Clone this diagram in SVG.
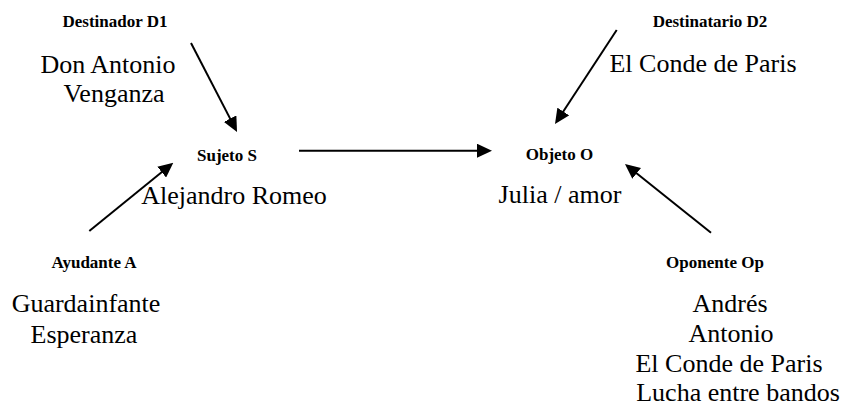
<svg xmlns="http://www.w3.org/2000/svg" width="843" height="407" viewBox="0 0 843 407">
  <style>
    text { font-family: "Liberation Serif", "DejaVu Serif", serif; font-weight: normal; fill: #000; text-anchor: middle; }
    .role { font-size: 17px; font-weight: bold; }
    .val { font-size: 26px; font-style: normal; }
    .arrow { stroke: #000; stroke-width: 2; fill: none; marker-end: url(#head); }
  </style>
  <defs>
    <marker id="head" markerUnits="userSpaceOnUse" markerWidth="15" markerHeight="14" refX="11" refY="7" orient="auto">
      <path d="M0,0 L15,7 L0,14 Z" fill="#000"/>
    </marker>
  </defs>

  <rect width="843" height="407" fill="#fff"/>

  <g id="connectors">
    <line class="arrow" x1="191" y1="43" x2="235.2" y2="128.4"/>
    <line class="arrow" x1="89.3" y1="231" x2="170.2" y2="165.2"/>
    <line class="arrow" x1="299" y1="150.7" x2="488" y2="150.7"/>
    <line class="arrow" x1="616.7" y1="30" x2="557.2" y2="120.7"/>
    <line class="arrow" x1="711" y1="232.7" x2="628.1" y2="166.5"/>
  </g>

  <g id="destinador">
    <text class="role" x="115" y="27">Destinador D1</text>
    <text class="val" x="108" y="72.5">Don Antonio</text>
    <text class="val" x="114" y="102">Venganza</text>
  </g>

  <g id="sujeto">
    <text class="role" x="227" y="160.7">Sujeto S</text>
    <text class="val" x="234" y="204">Alejandro Romeo</text>
  </g>

  <g id="objeto">
    <text class="role" x="559.5" y="160">Objeto O</text>
    <text class="val" x="560" y="203">Julia / amor</text>
  </g>

  <g id="destinatario">
    <text class="role" x="710" y="26.7">Destinatario D2</text>
    <text class="val" x="703" y="71.7">El Conde de Paris</text>
  </g>

  <g id="ayudante">
    <text class="role" x="94" y="268">Ayudante A</text>
    <text class="val" x="86" y="311.7">Guardainfante</text>
    <text class="val" x="84" y="342.7">Esperanza</text>
  </g>

  <g id="oponente">
    <text class="role" x="715" y="267.7">Oponente Op</text>
    <text class="val" x="730" y="311.7">Andrés</text>
    <text class="val" x="731" y="341.7">Antonio</text>
    <text class="val" x="729" y="372">El Conde de Paris</text>
    <text class="val" x="738" y="401">Lucha entre bandos</text>
  </g>
</svg>
